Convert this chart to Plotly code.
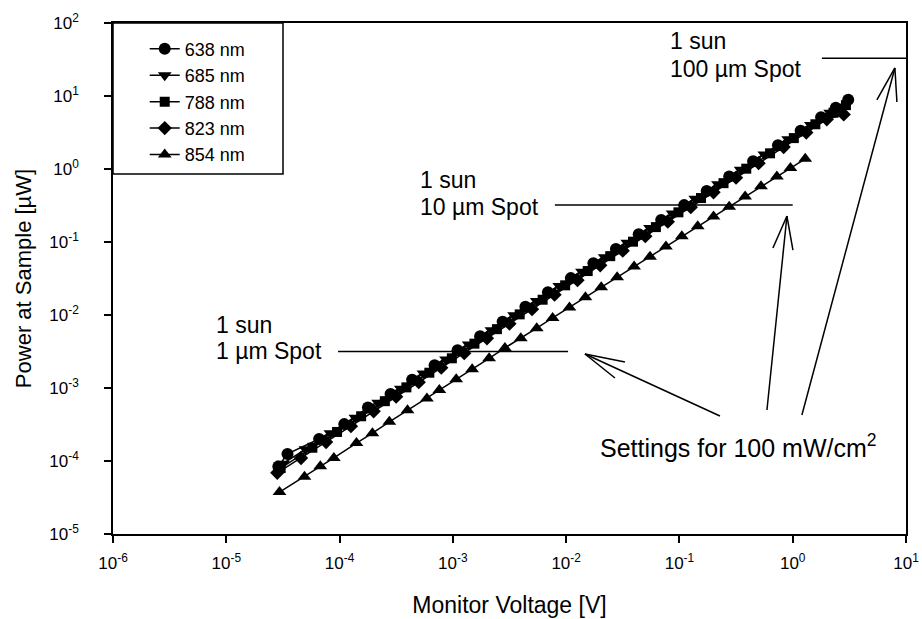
import plotly.graph_objects as go

# ---------------- data ----------------
series_names = ["638 nm", "685 nm", "788 nm", "823 nm", "854 nm"]

v_638 = [2.88e-5, 3.47e-5, 6.6e-5, 1.10e-4, 1.78e-4, 2.82e-4, 4.37e-4, 6.9e-4, 1.10e-3,
         1.74e-3, 2.75e-3, 4.37e-3, 6.9e-3, 1.10e-2, 1.74e-2, 2.75e-2, 4.37e-2, 6.9e-2,
         0.110, 0.174, 0.275, 0.447, 0.741, 1.175, 1.78, 2.40, 3.09]
p_638 = [8.4e-5, 1.25e-4, 2.0e-4, 3.2e-4, 5.4e-4, 8.3e-4, 1.30e-3, 2.05e-3, 3.3e-3,
         5.1e-3, 8.1e-3, 1.30e-2, 2.05e-2, 3.2e-2, 5.1e-2, 8.0e-2, 0.128, 0.20,
         0.32, 0.50, 0.79, 1.28, 2.12, 3.35, 5.1, 6.9, 8.9]

v_685 = [3.16e-5, 5.0e-5, 8.3e-5, 1.38e-4, 2.19e-4, 3.47e-4, 5.5e-4, 8.7e-4, 1.38e-3,
         2.19e-3, 3.47e-3, 5.5e-3, 8.7e-3, 1.38e-2, 2.19e-2, 3.47e-2, 5.5e-2, 8.7e-2,
         0.138, 0.219, 0.347, 0.562, 0.912, 1.445, 2.14]
p_685 = [9.2e-5, 1.45e-4, 2.4e-4, 3.9e-4, 6.3e-4, 9.8e-4, 1.58e-3, 2.45e-3, 3.95e-3,
         6.2e-3, 9.9e-3, 1.56e-2, 2.5e-2, 3.9e-2, 6.2e-2, 9.8e-2, 0.156, 0.245,
         0.39, 0.62, 0.98, 1.58, 2.55, 4.0, 5.9]

v_788 = [3.02e-5, 5.75e-5, 9.5e-5, 1.55e-4, 2.51e-4, 3.89e-4, 6.2e-4, 9.8e-4, 1.55e-3,
         2.45e-3, 3.89e-3, 6.2e-3, 9.8e-3, 1.55e-2, 2.45e-2, 3.89e-2, 6.2e-2, 9.8e-2,
         0.155, 0.245, 0.389, 0.631, 1.023, 1.585, 2.29, 2.95]
p_788 = [8.0e-5, 1.52e-4, 2.5e-4, 4.1e-4, 6.6e-4, 1.02e-3, 1.62e-3, 2.55e-3, 4.05e-3,
         6.4e-3, 1.02e-2, 1.62e-2, 2.55e-2, 4.0e-2, 6.4e-2, 0.101, 0.16, 0.255,
         0.40, 0.64, 1.01, 1.64, 2.65, 4.1, 5.9, 7.5]

v_823 = [2.82e-5, 4.57e-5, 7.6e-5, 1.26e-4, 2.0e-4, 3.16e-4, 5.0e-4, 7.9e-4, 1.26e-3,
         2.0e-3, 3.16e-3, 5.0e-3, 7.9e-3, 1.26e-2, 2.0e-2, 3.16e-2, 5.0e-2, 7.9e-2,
         0.126, 0.20, 0.316, 0.50, 0.832, 1.318, 2.0, 2.82]
p_823 = [6.9e-5, 1.10e-4, 1.82e-4, 3.0e-4, 4.8e-4, 7.6e-4, 1.20e-3, 1.90e-3, 3.0e-3,
         4.8e-3, 7.6e-3, 1.20e-2, 1.90e-2, 3.0e-2, 4.8e-2, 7.6e-2, 0.12, 0.19,
         0.30, 0.48, 0.76, 1.20, 2.0, 3.15, 4.8, 5.6]

v_854 = [2.95e-5, 4.9e-5, 6.76e-5, 8.9e-5, 1.41e-4, 1.95e-4, 2.75e-4, 3.98e-4, 5.9e-4,
         7.6e-4, 1.07e-3, 1.48e-3, 2.09e-3, 2.88e-3, 3.98e-3, 5.5e-3, 7.6e-3, 1.07e-2,
         1.48e-2, 2.04e-2, 2.82e-2, 3.98e-2, 5.5e-2, 7.6e-2, 0.105, 0.145, 0.20,
         0.275, 0.38, 0.525, 0.725, 0.955, 1.29]
p_854 = [3.75e-5, 6.1e-5, 8.5e-5, 1.10e-4, 1.76e-4, 2.4e-4, 3.44e-4, 4.95e-4, 7.2e-4,
         9.4e-4, 1.32e-3, 1.81e-3, 2.55e-3, 3.54e-3, 4.8e-3, 6.6e-3, 9.1e-3, 1.27e-2,
         1.75e-2, 2.4e-2, 3.3e-2, 4.6e-2, 6.3e-2, 8.7e-2, 0.12, 0.164, 0.224,
         0.305, 0.42, 0.58, 0.79, 1.03, 1.38]

x_tick_vals = [1e-6, 1e-5, 1e-4, 1e-3, 1e-2, 1e-1, 1e0, 1e1]
x_tick_text = ["10<sup>-6</sup>", "10<sup>-5</sup>", "10<sup>-4</sup>", "10<sup>-3</sup>",
               "10<sup>-2</sup>", "10<sup>-1</sup>", "10<sup>0</sup>", "10<sup>1</sup>"]
y_tick_vals = [1e-5, 1e-4, 1e-3, 1e-2, 1e-1, 1e0, 1e1, 1e2]
y_tick_text = ["10<sup>-5</sup>", "10<sup>-4</sup>", "10<sup>-3</sup>", "10<sup>-2</sup>",
               "10<sup>-1</sup>", "10<sup>0</sup>", "10<sup>1</sup>", "10<sup>2</sup>"]

# 1-sun power levels for the three spot sizes and their label texts
sun_levels = [3.16e-3, 0.32, 33.0]
sun_spot_labels = ["1 \u00b5m Spot", "10 \u00b5m Spot", "100 \u00b5m Spot"]

# ---------------- figure ----------------
FONT = "Liberation Sans, Arial, sans-serif"
fig = go.Figure()

traces = [
    (v_638, p_638, "circle", 12),
    (v_685, p_685, "triangle-down", 12),
    (v_788, p_788, "square", 10),
    (v_823, p_823, "diamond", 11),
    (v_854, p_854, "triangle-up", 12),
]
for name, (vx, py, sym, sz) in zip(series_names, traces):
    fig.add_trace(go.Scatter(
        x=vx, y=py, name=name, mode="lines+markers",
        line=dict(color="black", width=1.5),
        marker=dict(symbol=sym, size=sz, color="black"),
    ))

# horizontal reference lines (1 sun for each spot size)
line_spans = [(9.7e-5, 1.04e-2), (7.96e-3, 1.0), (1.81, 10.0)]
for lvl, (xa, xb) in zip(sun_levels, line_spans):
    fig.add_shape(type="line", xref="x", yref="y", x0=xa, x1=xb, y0=lvl, y1=lvl,
                  line=dict(color="black", width=1.5))

# pixel scale of the axes (px per decade) used to place arrow segments
PX_X = 793 / 7.0
PX_Y = 511 / 7.0

def seg(tx, ty, dx, dy):
    # line from tip (log coords) to a point offset by (dx, dy) pixels
    fig.add_shape(type="line", xref="x", yref="y",
                  x0=10 ** tx, y0=10 ** ty,
                  x1=10 ** (tx + dx / PX_X), y1=10 ** (ty - dy / PX_Y),
                  line=dict(color="black", width=1.5))

arrows = [
    ((-1.834, -2.534), (135, 62), [(40, 8), (30, 24)]),
    ((-0.051, -0.644), (-20, 194), [(-14, 32), (6, 34)]),
    ((0.902, 1.384), (-93, 347), [(-18, 32), (2, 34)]),
]
for (tx, ty), shaft, arms in arrows:
    seg(tx, ty, *shaft)
    for a in arms:
        seg(tx, ty, *a)

ann = []
def text_ann(xl, yl, txt, size):
    ann.append(dict(x=xl, y=yl, xref="x", yref="y", text=txt, showarrow=False,
                    xanchor="left", yanchor="middle",
                    font=dict(family=FONT, size=size, color="black")))

text_ann(-5.109, -2.137, "1 sun", 23)
text_ann(-5.109, -2.493, sun_spot_labels[0], 23)
text_ann(-3.308, -0.151, "1 sun", 23)
text_ann(-3.308, -0.521, sun_spot_labels[1], 23)
text_ann(-1.101, 1.753, "1 sun", 23)
text_ann(-1.101, 1.370, sun_spot_labels[2], 23)
text_ann(-1.719, -3.795, "Settings for 100 mW/cm<sup>2</sup>", 25)

# legend box
fig.add_shape(type="rect", xref="paper", yref="paper", x0=0, x1=170 / 793,
              y0=1 - 151 / 511, y1=1, line=dict(color="black", width=1.5),
              fillcolor="white", layer="below")

fig.update_layout(
    width=922, height=619, autosize=False,
    margin=dict(l=113, r=16, t=23, b=85),
    paper_bgcolor="white", plot_bgcolor="white",
    font=dict(family=FONT, color="black", size=17),
    showlegend=True,
    legend=dict(x=0.040, y=0.985, xanchor="left", yanchor="top",
                bgcolor="rgba(0,0,0,0)", borderwidth=0,
                font=dict(family=FONT, size=18, color="black"),
                tracegroupgap=0),
    annotations=ann,
)
fig.update_xaxes(
    type="log", range=[-6, 1], tickvals=x_tick_vals, ticktext=x_tick_text,
    automargin=False,
    showgrid=False, zeroline=False, showline=True, linecolor="black", linewidth=1.5,
    mirror=True, ticks="outside", ticklen=7, tickwidth=1.5, tickcolor="black",
    tickfont=dict(family=FONT, size=17, color="black"), ticklabelstandoff=6,
    title=dict(text="Monitor Voltage [V]", font=dict(family=FONT, size=23, color="black"),
               standoff=25),
)
fig.update_yaxes(
    type="log", range=[-5, 2], tickvals=y_tick_vals, ticktext=y_tick_text,
    automargin=False,
    showgrid=False, zeroline=False, showline=True, linecolor="black", linewidth=1.5,
    mirror=True, ticks="outside", ticklen=7, tickwidth=1.5, tickcolor="black",
    tickfont=dict(family=FONT, size=17, color="black"), ticklabelstandoff=22,
    title=dict(text="Power at Sample [\u00b5W]", font=dict(family=FONT, size=22, color="black"),
               standoff=12),
)

fig.write_html("out.html")
